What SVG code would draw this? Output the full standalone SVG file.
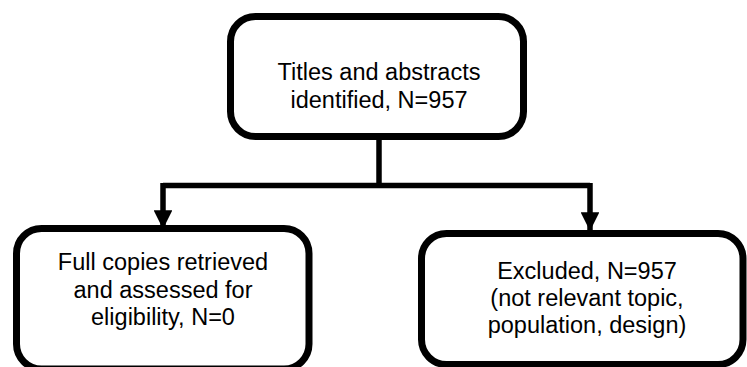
<svg xmlns="http://www.w3.org/2000/svg" width="747" height="367" viewBox="0 0 747 367">
<style>
.box{fill:#fff;stroke:#000;stroke-width:7}
.t{font-family:"Liberation Sans",Arial,sans-serif;font-size:23.5px;fill:#000;text-anchor:middle}
.c{fill:none;stroke:#000;stroke-width:5.5}
</style>
<defs>
<marker id="ah" viewBox="0 0 10 10" refX="10" refY="5" markerWidth="3.4" markerHeight="3.4" markerUnits="strokeWidth" orient="auto">
<path d="M0,0 L10,5 L0,10 Z" fill="#000"/>
</marker>
</defs>
<rect width="747" height="367" fill="#fff"/>
<g id="connectors">
<path class="c" d="M379,136 V185.5"/>
<path class="c" d="M163,185.5 H590"/>
<path class="c" d="M163,183 V229" marker-end="url(#ah)"/>
<path class="c" d="M590,183 V231" marker-end="url(#ah)"/>
</g>
<g id="n1">
<rect class="box" x="230.5" y="16.5" width="293" height="120" rx="25"/>
<text class="t" x="379" y="80">Titles and abstracts</text>
<text class="t" x="379" y="107.5">identified, N=957</text>
</g>
<g id="n2">
<rect class="box" x="16.5" y="228.5" width="292.5" height="140.5" rx="25"/>
<text class="t" x="163" y="270">Full copies retrieved</text>
<text class="t" x="163" y="297.5">and assessed for</text>
<text class="t" x="163" y="325">eligibility, N=0</text>
</g>
<g id="n3">
<rect class="box" x="421.5" y="233.5" width="321.5" height="131" rx="25"/>
<text class="t" x="587" y="279">Excluded, N=957</text>
<text class="t" x="587" y="306">(not relevant topic,</text>
<text class="t" x="587" y="333">population, design)</text>
</g>
</svg>
